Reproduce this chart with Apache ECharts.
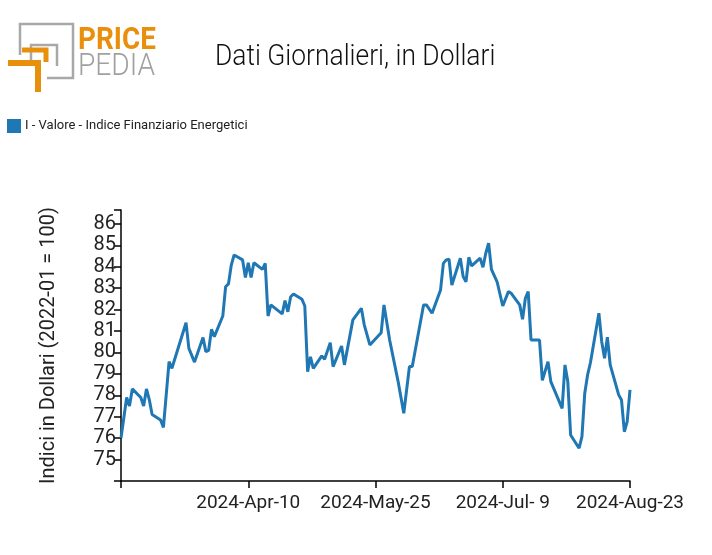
<!DOCTYPE html>
<html>
<head>
<meta charset="utf-8">
<script src="https://cdn.jsdelivr.net/npm/echarts@6/dist/echarts.min.js"></script>
<style>
html,body{margin:0;padding:0;background:#fff;}
#c{width:712px;height:555px;}
</style>
</head>
<body>
<div id="c"></div>
<script>
// ---- data ----
const dates = ['2024-02-25','2024-02-27','2024-02-28','2024-02-29','2024-03-03','2024-03-04','2024-03-05','2024-03-06','2024-03-07','2024-03-10',
'2024-03-11','2024-03-13','2024-03-14','2024-03-19','2024-03-20','2024-03-22','2024-03-25','2024-03-26','2024-03-27','2024-03-28',
'2024-03-29','2024-04-01','2024-04-02','2024-04-03','2024-04-04','2024-04-05','2024-04-08','2024-04-09','2024-04-10','2024-04-11',
'2024-04-12','2024-04-15','2024-04-16','2024-04-17','2024-04-18','2024-04-22','2024-04-23','2024-04-24','2024-04-25','2024-04-26',
'2024-04-29','2024-04-30','2024-05-01','2024-05-02','2024-05-03','2024-05-06','2024-05-07','2024-05-09','2024-05-10','2024-05-13',
'2024-05-14','2024-05-17','2024-05-20','2024-05-21','2024-05-23','2024-05-27','2024-05-28','2024-05-30','2024-06-02','2024-06-04',
'2024-06-06','2024-06-07','2024-06-11','2024-06-12','2024-06-14','2024-06-17','2024-06-18','2024-06-19','2024-06-20','2024-06-21',
'2024-06-24','2024-06-25','2024-06-26','2024-06-27','2024-06-28','2024-07-01','2024-07-02','2024-07-03','2024-07-04','2024-07-05',
'2024-07-07','2024-07-09','2024-07-11','2024-07-12','2024-07-15','2024-07-16','2024-07-17','2024-07-18','2024-07-19','2024-07-22',
'2024-07-23','2024-07-25','2024-07-26','2024-07-30','2024-07-31','2024-08-01','2024-08-02','2024-08-05','2024-08-06','2024-08-07',
'2024-08-08','2024-08-09','2024-08-12','2024-08-13','2024-08-14','2024-08-15','2024-08-16','2024-08-19','2024-08-20','2024-08-21',
'2024-08-22','2024-08-23'];
const values = [76.0,77.9,77.5,78.3,77.9,77.5,78.3,77.8,77.1,76.85,
76.5,79.57,79.26,81.39,80.19,79.55,80.7,80.04,80.1,81.08,
80.74,81.7,83.07,83.2,84.08,84.55,84.32,83.5,84.19,83.5,
84.19,83.88,84.16,81.7,82.22,81.8,82.42,81.9,82.6,82.73,
82.48,82.17,79.1,79.8,79.26,79.84,79.68,80.46,79.34,80.3,
79.42,81.52,82.06,81.3,80.35,80.92,82.22,80.58,78.64,77.16,
79.34,79.34,82.22,82.22,81.83,82.92,84.16,84.32,84.35,83.15,
84.4,83.54,83.3,84.44,84.04,84.4,83.98,84.63,85.1,83.88,
83.3,82.17,82.84,82.76,82.22,81.55,82.53,82.84,80.58,80.58,
78.7,79.57,78.64,77.39,79.42,78.64,76.15,75.53,76.07,78.1,
78.95,79.52,81.83,80.5,79.73,80.71,79.42,78.02,77.78,76.3,
76.77,78.25];
const startDate = '2024-02-25';
const xTickLabels = ['', '2024-Apr-10', '2024-May-25', '2024-Jul- 9', '2024-Aug-23'];
const seriesName = 'I - Valore - Indice Finanziario Energetici';
const titleText = 'Dati Giornalieri, in Dollari';
const yAxisTitle = 'Indici in Dollari (2022-01 = 100)';

// ---- build ----
function dayNum(s){const p=s.split('-').map(Number);return Date.UTC(p[0],p[1]-1,p[2])/86400000;}
const d0 = dayNum(startDate);
const seriesData = dates.map((d,i)=>[dayNum(d)-d0, values[i]]);

const FONT = 'Roboto';
const chart = echarts.init(document.getElementById('c'), null, {renderer:'canvas'});
chart.setOption({
  animation:false,
  backgroundColor:'#ffffff',
  grid:{left:121, right:82, top:210, bottom:74, containLabel:false},
  legend:{
    left:7, top:119, padding:0, icon:'rect', itemWidth:14, itemHeight:14, itemGap:6,
    textStyle:{fontFamily:FONT, fontSize:13, color:'#222', padding:[0,0,0,-1]},
    data:[seriesName]
  },
  xAxis:{
    type:'value', min:0, max:180, interval:45,
    axisLine:{lineStyle:{color:'#000', width:1.5}},
    axisTick:{length:7, lineStyle:{color:'#000', width:1.5}},
    splitLine:{show:false},
    axisLabel:{
      fontFamily:FONT, fontSize:19, color:'#222', margin:13,
      formatter:(v)=>xTickLabels[Math.round(v/45)] || ''
    }
  },
  yAxis:{
    type:'value', min:74, max:86.65, interval:1,
    axisLine:{show:true, lineStyle:{color:'#000', width:1.5}},
    axisTick:{show:true, length:7, lineStyle:{color:'#000', width:1.5}},
    splitLine:{show:false},
    axisLabel:{
      fontFamily:FONT, fontSize:20, color:'#222', margin:5,
      formatter:(v)=> (v<74.5 || v>86.2) ? '' : String(Math.round(v))
    },
    name: yAxisTitle, nameLocation:'middle', nameRotate:90, nameGap:62,
    nameTextStyle:{fontFamily:FONT, fontSize:20, color:'#222'}
  },
  series:[{
    name:seriesName, type:'line', data:seriesData, showSymbol:false,
    lineStyle:{color:'#1f77b4', width:3}, itemStyle:{color:'#1f77b4'}
  }],
  graphic:[
    {type:'text', x:215, y:42, style:{text:titleText, font:'300 30px Roboto', fill:'#111'}, scaleX:0.88},
    // logo
    {type:'polyline', shape:{points:[[20,55],[20,24],[73,24],[73,78],[47,78]]}, style:{stroke:'#a8a8a8', lineWidth:2.5, fill:null}},
    {type:'polyline', shape:{points:[[31,62],[31,45],[57,45],[57,66]]}, style:{stroke:'#a8a8a8', lineWidth:2.5, fill:null}},
    {type:'polyline', shape:{points:[[8,63],[38,63],[38,92]]}, style:{stroke:'#e8900c', lineWidth:6, fill:null}},
    {type:'polyline', shape:{points:[[22,50],[46,50],[46,62]]}, style:{stroke:'#e8900c', lineWidth:5, fill:null}},
    {type:'text', x:78, y:25, style:{text:'PRICE', font:'bold 32px Roboto', fill:'#e8900c'}, scaleX:0.87},
    {type:'text', x:78, y:51, style:{text:'PEDIA', font:'300 32px Roboto', fill:'#a0a0a0'}, scaleX:0.88}
  ]
});
</script>
</body>
</html>
